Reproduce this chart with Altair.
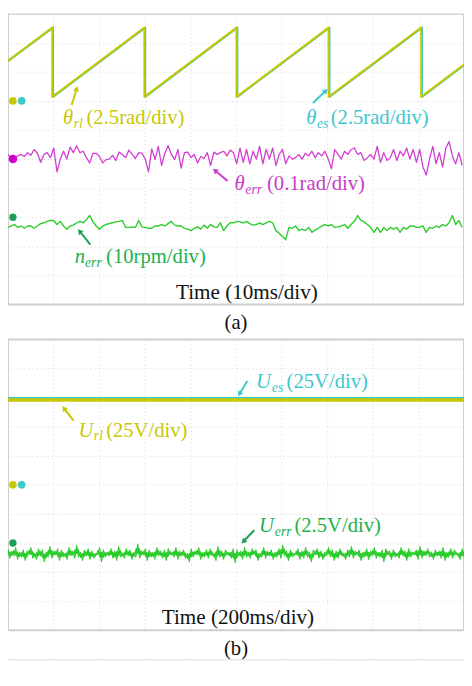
import altair as alt
import pandas as pd
import numpy as np

# ---------------- data ----------------
# Panel (a): time base 10 ms/div (100 ms full screen)
saw_t_ms = [0.0, 9.7, 9.7, 29.9, 29.9, 50.1, 50.1, 70.3, 70.3, 90.6, 90.6, 100.0]
theta_rl_rad = [3.45, 6.3, 0.35, 6.3, 0.35, 6.3, 0.35, 6.3, 0.35, 6.3, 0.35, 3.12]
saw_es_t_ms = [0.0, 9.9, 9.9, 30.1, 30.1, 50.3, 50.3, 70.5, 70.5, 90.8, 90.8, 100.0]
theta_es_rad = [3.42, 6.3, 0.35, 6.3, 0.35, 6.3, 0.35, 6.3, 0.35, 6.3, 0.35, 3.07]

theta_err_mrad = [
    16, 0, 5, 11, 16, 9, 22, 13, 33, 20, -11, 16, 22, 5, 38, -44, 0, 27, 0, 41,
    22, 46, 22, 27, 5, -13, 20, 20, 9, -13, -2, 0, 13, -5, 24, 16, 5, 31, 16, 2,
    22, 20, 0, -44, 35, -2, 44, -22, 20, 46, 16, -2, 33, -31, 22, 24, 5, 16, -13, 9,
    2, 22, -22, 24, 16, 22, 27, 11, 31,
    22, -16, 38, -11, 33, -16, 27, 0, 44, -16, 33, 0, 38, -22, 16, 33, -16, 11, 0, 5,
    16, 0, 20, 11, 27, 5, 22, 11, 27, 0, -33, 33, 16, 0, 27, 16, 33, 38, 16, 22,
    -5, 5, 16, 0, 44, -11, 22, -5, 5, 33, -5, 27, 11, 38, 0, 33, -11, 33, -27, -55,
    0, 44, -16, 22, -27, 38, 60, 11, -16, 22, -22,
]

n_err_rpm = [
    -3.0, -2.5, -2.0, -3.0, -2.5, -3.3, -2.5, -2.5, -3.3, -2.5,
    -1.7, -1.4, -0.9, -0.6, -0.6, -2.0, -0.9, -2.5, -3.6, -2.5,
    -2.2, -1.4, -0.9, -1.4, -0.3, 1.1, -1.1, -2.5, -3.6, -2.5,
    -2.0, -1.7, -1.4, -1.1, -0.9, -0.6, -3.0, -3.0, -2.8, -3.0,
    -0.6, -2.8, -3.0, -3.3, -3.3, -2.5, -2.5, -2.0, -2.5, -1.7,
    -0.9, -2.2, -2.5, -2.5, -3.3, -3.6, -4.1, -3.3, -2.8, -3.6,
    -2.2, -3.3, -2.0, -2.8, -3.0, -1.4, -4.1, -2.5, -1.4,
    -1.4, -0.9, -1.1, -1.4, -0.9, -1.7, -2.2, -2.0, -1.4, -2.0,
    -1.4, -0.9, -1.4, -4.1, -5.0, -6.1, -7.2, -3.0, -3.3, -2.5,
    -4.1, -3.6, -4.1, -3.0, -4.7, -3.9, -3.3, -2.5, -2.0, -2.5,
    -2.0, -3.0, -2.8, -2.5, -2.0, -3.3, -2.0, -0.9, 1.1, -0.6,
    -1.1, -2.0, -3.0, -4.7, -3.0, -4.7, -3.0, -4.1, -3.0, -3.6,
    -3.0, -4.7, -3.0, -3.6, -2.5, -2.5, -3.0, -3.0, -2.5, -4.7,
    -3.0, -3.3, -2.5, -3.0, -2.0, -2.5, -1.4, 1.1, -2.0, -0.6,
    -3.0,
]

# Panel (b): time base 200 ms/div (2000 ms full screen)
u_t_ms = [0.0, 2000.0]
u_rl_v = [73.0, 73.0]
u_es_v = [74.9, 74.9]

u_err_v = [
    -0.5, -1.3, -0.7, -1.1, -0.4, -1.4, -0.8, -1.2, -0.6, -1.5, -0.7, -1.0, -0.4, -1.3, -0.9, -1.4, -0.5, -1.1, -0.6, -1.6,
    -0.8, -1.2, -0.3, -1.3, -0.7, -1.0, -0.5, -1.5, -0.6, -1.2, -0.9, -1.4, -0.4, -1.1, -0.7, -1.3, -0.2, -1.2, -0.8, -1.5,
    -0.6, -1.1, -0.5, -1.4, -0.7, -1.3, -0.9, -1.0, -0.4, -1.6, -0.6, -1.2, -0.8, -1.1, -0.5, -1.3, -0.7, -1.5, -0.3, -1.2,
    -0.9, -1.3, -0.5, -1.1, -0.6, -1.4, -0.8, -1.2, -0.1, -1.3, -0.7, -1.0, -0.5, -1.5, -0.6, -1.2, -0.8, -1.4, -0.4, -1.1,
    -0.7, -1.3, -0.6, -1.5, -0.5, -1.0, -0.8, -1.2, -0.4, -1.4, -0.7, -1.1, -0.6, -1.3, -0.9, -1.6, -0.5, -1.2, -0.7, -1.0,
    -0.4, -1.4, -0.8, -1.2, -0.6, -1.3, -0.5, -1.1, -0.9, -1.5, -0.3, -1.2, -0.7, -1.4, -0.6, -1.0, -0.8, -1.3, -0.5, -1.7,
    -0.6, -1.1, -0.7, -1.4, -0.4, -1.2, -0.8, -1.3, -0.5, -1.0, -0.6, -1.5, -0.9, -1.2, -0.4, -1.3, -0.7, -1.1, -0.6, -1.4,
    -0.8, -1.2, -0.5, -1.3, -0.2, -1.1, -0.7, -1.5, -0.6, -1.2, -0.9, -1.0, -0.5, -1.4, -0.7, -1.3, -0.4, -1.2, -0.8, -1.6,
    -0.6, -1.0, -0.5, -1.3, -0.7, -1.4, -0.8, -1.1, -0.4, -1.2, -0.6, -1.5, -0.7, -1.3, -0.5, -1.1, -0.9, -1.4, -0.6, -1.2,
    -0.3, -1.3, -0.7, -1.0, -0.6, -1.5, -0.8, -1.2, -0.5, -1.4, -0.7, -1.1, -0.4, -1.3, -0.8, -1.2, -0.6, -1.6, -0.5, -1.0,
    -0.7, -1.4, -0.6, -1.2, -0.9, -1.3, -0.4, -1.1, -0.7, -1.5, -0.5, -1.2, -0.8, -1.0, -0.6, -1.4, -0.3, -1.3, -0.7, -1.1,
    -0.5, -1.2, -0.8, -1.4, -0.6, -1.1, -0.7, -1.3, -0.4, -1.5, -0.8, -1.2, -0.5, -1.3, -0.6, -1.0, -0.9, -1.4, -0.5, -1.2,
]

# channel settings: (zero position in divisions, units per division)
ch_a = {"rl": (7.0, 2.5), "es": (7.0, 2.5), "err": (5.0, 100.0), "n": (2.95, 10.0)}
ch_b = {"rl": (5.0, 25.0), "es": (5.0, 25.0), "err": (3.0, 2.5)}

# annotations (x in ms, y in divisions of own screen, text baseline)
lab_a = pd.DataFrame({
    "ms": [12.04, 65.38, 49.68, 14.62],
    "div": [6.21, 6.21, 3.95, 1.41],
    "sym": ["θ", "θ", "θ", "n"],
    "sub": ["rl", "es", "err", "err"],
    "rest": ["(2.5rad/div)", "(2.5rad/div)", "(0.1rad/div)", "(10rpm/div)"],
})
lab_b = pd.DataFrame({
    "ms": [309.7, 1088.2, 1101.1],
    "div": [6.66, 8.34, 3.38],
    "sym": ["U", "U", "U"],
    "sub": ["rl", "es", "err"],
    "rest": ["(25V/div)", "(25V/div)", "(2.5V/div)"],
})
arr_a = pd.DataFrame({
    "ms": [13.98, 66.88, 48.17, 18.06], "div": [6.86, 6.93, 4.25, 2.06],
    "ms2": [15.05, 69.68, 45.38, 15.70], "div2": [7.42, 7.35, 4.61, 2.52],
})
arr_b = pd.DataFrame({
    "ms": [288.2, 1049.5, 1079.6], "div": [7.21, 8.57, 3.44],
    "ms2": [245.2, 1015.1, 1032.3], "div2": [7.63, 8.12, 3.05],
})

# ---------------- layout / styling ----------------
FONT = "Liberation Serif"
W, H = 464, 657
MS_A, MS_B = 10.0, 200.0          # ms per division of each screen
A0, B0 = 11.2, 0.0                # vertical position of each screen in the shared y scale
YMIN, YMAX = -1.0, 21.2
YELLOW = "#c8c800"
CYAN = "#3cc8cc"
MAGENTA = "#d23cd2"
MAG_TXT = "#c83cc8"
GREEN = "#2ccc2c"
DGREEN = "#1f9f55"
GTXT = "#22b04a"
FRAME = "#cfcfcf"

GRID = dict(grid=True, labels=False, ticks=False, domain=False, title=None,
            gridColor="#d6d6d6", gridDash=[1, 3], gridWidth=1)
X = alt.X("x:Q", scale=alt.Scale(domain=[0, 10], nice=False, zero=False),
          axis=alt.Axis(values=list(range(11)), **GRID))
Y = alt.Y("y:Q", scale=alt.Scale(domain=[YMIN, YMAX], nice=False, zero=False),
          axis=alt.Axis(values=[B0 + i for i in range(11)] + [round(A0 + i, 2) for i in range(11)], **GRID))

PXX = W / 10.0
PXY = H / (YMAX - YMIN)


def trace(t, v, ch, msdiv, y0):
    off, per = ch
    return pd.DataFrame({"x": [tt / msdiv for tt in t], "y": [y0 + off + val / per for val in v]})


def line(df, color, w):
    return alt.Chart(df).mark_line(color=color, strokeWidth=w, strokeJoin="round",
                                   clip=True).encode(x=X, y=Y)


def band(df, color):
    d = df.copy()
    hi = d["y"].rolling(3, center=True, min_periods=1).max()
    lo = d["y"].rolling(3, center=True, min_periods=1).min()
    d["y"] = hi * 0.7 + lo * 0.3
    d["y2"] = hi * 0.3 + lo * 0.7
    return alt.Chart(d).mark_area(color=color, opacity=1, clip=True).encode(x=X, y=Y, y2="y2:Q")


def dot(xms, yv, msdiv, y0, color, size):
    df = pd.DataFrame({"x": [xms / msdiv], "y": [y0 + yv]})
    return alt.Chart(df).mark_circle(color=color, size=size, opacity=1).encode(x=X, y=Y)


def arrows(df, msdiv, y0, colors):
    d = pd.DataFrame({
        "x": df["ms"] / msdiv, "y": df["div"] + y0,
        "x2": df["ms2"] / msdiv, "y2": df["div2"] + y0,
    })
    d["ang"] = [
        (np.degrees(np.arctan2((b - a) * PXX, (c - e) * PXY)) + 360) % 360
        for a, b, e, c in zip(d["x"], d["x2"], d["y"], d["y2"])
    ]
    d["col"] = colors
    rule = alt.Chart(d).mark_rule(strokeWidth=2).encode(
        x=X, y=Y, x2="x2:Q", y2="y2:Q", color=alt.Color("col:N", scale=None))
    hd = d.copy()
    hd["x"] = d["x2"]
    hd["y"] = d["y2"]
    head = alt.Chart(hd).mark_point(shape="triangle-up", filled=True, size=38, opacity=1).encode(
        x=X, y=Y, angle=alt.Angle("ang:Q", scale=None), color=alt.Color("col:N", scale=None))
    return [rule, head]


def labels(df, msdiv, y0, colors, subdx, restdx):
    out = []
    for i in range(len(df)):
        row = pd.DataFrame({"x": [df["ms"].iloc[i] / msdiv], "y": [df["div"].iloc[i] + y0],
                            "sym": [df["sym"].iloc[i]], "sub": [df["sub"].iloc[i]],
                            "rest": [df["rest"].iloc[i]]})
        c = colors[i]
        out.append(alt.Chart(row).mark_text(align="left", baseline="alphabetic", font=FONT,
                                            fontSize=21, fontStyle="italic", color=c)
                   .encode(x=X, y=Y, text="sym:N"))
        out.append(alt.Chart(row).mark_text(align="left", baseline="alphabetic", font=FONT,
                                            fontSize=14, fontStyle="italic", color=c,
                                            dx=subdx[i], dy=4)
                   .encode(x=X, y=Y, text="sub:N"))
        out.append(alt.Chart(row).mark_text(align="left", baseline="alphabetic", font=FONT,
                                            fontSize=21, color=c, dx=restdx[i])
                   .encode(x=X, y=Y, text="rest:N"))
    return out


def caption(xd, yd, txt, size=21.5):
    df = pd.DataFrame({"x": [xd], "y": [yd], "t": [txt]})
    return alt.Chart(df).mark_text(align="center", baseline="alphabetic", font=FONT,
                                   fontSize=size, color="#111111").encode(x=X, y=Y, text="t:N")


# screen frames and blank strips (outside the two screens)
screens = pd.DataFrame({"x": [0, 0], "x2": [10, 10], "y": [A0, B0], "y2": [A0 + 10, B0 + 10]})
blanks = pd.DataFrame({"x": [0, 0], "x2": [10, 10], "y": [B0 + 10, YMIN], "y2": [A0, B0]})

layers = [
    alt.Chart(blanks).mark_rect(color="white", opacity=1, clip=True).encode(
        x=X, y=Y, x2="x2:Q", y2="y2:Q"),
    alt.Chart(screens).mark_rect(fillOpacity=0, stroke=FRAME, strokeWidth=2, clip=True).encode(
        x=X, y=Y, x2="x2:Q", y2="y2:Q"),
]

# ---- screen (a)
t_err = list(np.linspace(0, 99.6, len(theta_err_mrad)))
t_n = list(np.linspace(0, 99.6, len(n_err_rpm)))
layers += [
    line(trace(saw_es_t_ms, theta_es_rad, ch_a["es"], MS_A, A0), CYAN, 2),
    line(trace(saw_t_ms, theta_rl_rad, ch_a["rl"], MS_A, A0), YELLOW, 2),
    line(trace(t_err, theta_err_mrad, ch_a["err"], MS_A, A0), MAGENTA, 1.3),
    line(trace(t_n, n_err_rpm, ch_a["n"], MS_A, A0), GREEN, 1.4),
    dot(1.08, ch_a["rl"][0], MS_A, A0, YELLOW, 60),
    dot(3.0, ch_a["es"][0], MS_A, A0, CYAN, 60),
    dot(1.08, ch_a["err"][0], MS_A, A0, "#cc00cc", 75),
    dot(1.08, ch_a["n"][0] + 0.05, MS_A, A0, DGREEN, 55),
]
layers += arrows(arr_a, MS_A, A0, [YELLOW, CYAN, MAG_TXT, DGREEN])
layers += labels(lab_a, MS_A, A0, [YELLOW, CYAN, MAG_TXT, GTXT], [11, 11, 11, 10.5], [24, 25, 33, 32])
layers.append(caption(5.24, A0 + 0.196, "Time (10ms/div)"))
layers.append(caption(5.0, 10.365, "(a)", 21))

# ---- screen (b)
t_u = list(np.linspace(0, 2000, len(u_err_v)))
uerr_df = trace(t_u, u_err_v, ch_b["err"], MS_B, B0)
layers += [
    line(trace(u_t_ms, u_rl_v, ch_b["rl"], MS_B, B0), YELLOW, 4),
    line(trace(u_t_ms, u_es_v, ch_b["es"], MS_B, B0), CYAN, 1.3),
    band(uerr_df, GREEN),
    line(uerr_df, GREEN, 1.1),
    dot(21.5, ch_b["rl"][0], MS_B, B0, YELLOW, 60),
    dot(60.2, ch_b["es"][0], MS_B, B0, CYAN, 60),
    dot(21.5, ch_b["err"][0], MS_B, B0, DGREEN, 55),
]
layers += arrows(arr_b, MS_B, B0, [YELLOW, CYAN, DGREEN])
layers += labels(lab_b, MS_B, B0, [YELLOW, CYAN, GTXT], [15.5, 16, 16], [28, 31, 36])
layers.append(caption(5.043, B0 + 0.23, "Time (200ms/div)"))
layers.append(caption(5.0, -0.835, "(b)", 21))

chart = alt.layer(*layers).properties(
    width=W, height=H, padding=0,
    autosize=alt.AutoSizeParams(type="none", contains="padding"),
).configure_view(strokeWidth=0, strokeOpacity=0).configure(background="white")

chart.save("out.html", embed_options={"renderer": "svg", "actions": False})
